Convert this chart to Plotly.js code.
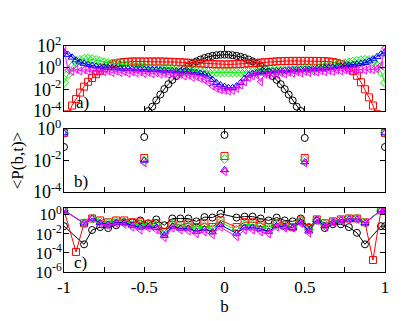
<!DOCTYPE html>
<html>
<head>
<meta charset="utf-8">
<script src="https://cdn.plot.ly/plotly-3.0.1.min.js"></script>
<style>
  body { margin: 0; background: #fff; }
  #chartDiv { width: 415px; height: 321px; }
</style>
</head>
<body>
<div id="chartDiv"></div>
<script>
// panel a) ---------------------------------------------------------
var aB = [-1,-0.975,-0.95,-0.925,-0.9,-0.875,-0.85,-0.825,-0.8,-0.775,-0.75,-0.725,-0.7,-0.675,-0.65,-0.625,-0.6,-0.575,-0.55,-0.525,
  -0.5,-0.475,-0.45,-0.425,-0.4,-0.375,-0.35,-0.325,-0.3,-0.275,-0.25,-0.225,-0.2,-0.175,-0.15,-0.125,-0.1,-0.075,-0.05,-0.025,
  0,0.025,0.05,0.075,0.1,0.125,0.15,0.175,0.2,0.225,0.25,0.275,0.3,0.325,0.35,0.375,0.4,0.425,0.45,0.475,
  0.5,0.525,0.55,0.575,0.6,0.625,0.65,0.675,0.7,0.725,0.75,0.775,0.8,0.825,0.85,0.875,0.9,0.925,0.95,0.975,1]

var aBlack = [1e-8,1e-8,1e-8,1e-8,1e-8,1e-8,1e-8,1e-8,1e-8,1e-8,1e-8,1e-8,1e-8,1e-8,1e-8,1e-8,1e-8,1e-8,
  3e-7,2.5e-6,1.6e-5,1e-4,2.5e-4,9.5e-4,3.3e-3,1.05e-2,0.03,0.074,0.17,0.38,0.74,1.35,2.3,3.8,5.6,7.8,10,12.3,14.1,15.5,15.8,
  15.5,14.1,12.3,10,7.8,5.6,3.8,2.3,1.35,0.74,0.38,0.17,0.074,0.03,1.05e-2,3.3e-3,9.5e-4,2.5e-4,1e-4,1.6e-5,2.5e-6,3e-7,
  1e-8,1e-8,1e-8,1e-8,1e-8,1e-8,1e-8,1e-8,1e-8,1e-8,1e-8,1e-8,1e-8,1e-8,1e-8,1e-8,1e-8,1e-8]
var aRed = [6e-6,5e-5,3.2e-4,1.26e-3,5e-3,0.0178,0.05,0.112,0.25,0.5,0.89,1.41,2.0,2.5,2.95,3.3,3.55,3.7,3.7,3.7,
  3.7,3.7,3.7,3.7,3.7,3.6,3.55,3.4,3.3,3.15,3.0,2.85,2.7,2.55,2.4,2.3,2.2,2.1,2.05,2.0,
  2.0,2.0,2.05,2.1,2.2,2.3,2.45,2.6,2.75,2.95,3.15,3.35,3.55,3.8,4.0,4.1,4.2,4.2,4.2,4.2,
  4.2,4.2,4.2,4.15,4.1,4.0,3.7,3.3,2.8,2.2,1.6,1.0,0.5,0.18,0.045,0.01,1.8e-3,3.2e-4,5e-5,6e-6,1e-6]
var aGreen = [0.04,0.25,1.26,3.16,5.0,6.3,6.6,6.0,5.0,4.0,3.16,2.7,2.4,2.14,1.9,1.74,1.58,1.45,1.32,1.23,
  1.15,1.07,1.0,0.93,0.87,0.81,0.76,0.71,0.66,0.62,0.575,0.54,0.5,0.47,0.45,0.42,0.4,0.38,0.37,0.36,
  0.355,0.355,0.36,0.37,0.38,0.39,0.41,0.42,0.44,0.45,0.47,0.48,0.5,0.52,0.55,0.575,0.6,0.63,0.68,0.71,
  0.76,0.81,0.89,1.0,1.12,1.26,1.41,1.62,1.86,2.14,2.5,2.95,3.55,4.17,4.8,5.25,5.0,3.55,1.58,0.4,0.04]
var aBlue = [28,16,9,5,3.2,2.4,1.9,1.58,1.35,1.2,1.1,1.02,0.95,0.91,0.87,0.83,0.79,0.76,0.74,0.72,
  0.69,0.67,0.65,0.62,0.6,0.58,0.55,0.525,0.5,0.47,0.45,0.41,0.38,0.34,0.3,0.24,0.16,0.08,0.04,0.025,
  0.018,0.014,0.014,0.02,0.04,0.1,0.2,0.28,0.35,0.39,0.42,0.45,0.47,0.5,0.52,0.55,0.58,0.6,0.63,0.66,
  0.69,0.72,0.76,0.8,0.85,0.92,1.0,1.1,1.2,1.35,1.5,1.7,1.9,2.1,2.4,2.8,4.0,6.3,10,17.8,28]
var aMag = [63,0.6,0.45,0.7,0.5,0.65,0.45,0.6,0.4,0.55,0.42,0.5,0.35,0.48,0.36,0.45,0.3,0.42,0.32,0.4,
  0.28,0.36,0.27,0.33,0.25,0.3,0.22,0.27,0.2,0.24,0.17,0.2,0.13,0.15,0.1,0.08,0.04,0.02,0.012,0.009,
  0.008,0.007,0.008,0.012,0.025,0.05,0.12,0.18,0.22,0.05,0.25,0.2,0.3,0.24,0.34,0.27,0.38,0.3,0.42,0.33,
  0.45,0.36,0.48,0.4,0.52,0.43,0.55,0.45,0.6,0.5,0.62,0.52,0.65,0.55,0.7,0.6,0.75,0.65,0.8,1.6,63]

// panel b) ---------------------------------------------------------
var bB = [-1,-0.5,0,0.5,1]
var bBlack = [0.072,0.31,0.42,0.27,0.072]
var bRed = [0.56,0.0145,0.0195,0.0145,0.56]
var bGreen = [0.56,0.01,0.0126,0.0107,0.56]
var bBlue = [0.56,0.01,0.0025,0.008,0.56]
var bMag = [0.56,0.007,0.002,0.007,0.56]

// panel c) ---------------------------------------------------------
var cB = [-1,-0.975,-0.925,-0.875,-0.825,-0.775,-0.725,-0.675,-0.625,-0.575,-0.525,-0.475,-0.425,-0.375,-0.325,-0.275,-0.225,-0.175,-0.125,-0.075,-0.025,
  0.025,0.075,0.125,0.175,0.225,0.275,0.325,0.375,0.425,0.475,0.525,0.575,0.625,0.675,0.725,0.775,0.825,0.875,0.925,0.975,1]
var cBlack = [0.063,null,null,7.9e-4,0.025,0.05,0.04,0.079,0.16,0.16,0.25,0.126,0.32,0.079,0.4,0.4,0.4,0.2,0.56,0.5,1.26,
  null,0.5,0.63,0.63,0.4,0.25,0.5,0.25,0.2,0.4,0.05,0.25,0.04,0.1,0.1,0.05,0.0126,7.9e-4,null,0.063,0.063]
var cRed = [2.9,null,1.26e-4,0.126,0.4,0.25,0.16,0.25,0.25,0.16,0.16,0.1,0.126,0.016,0.126,0.079,0.126,0.05,0.126,0.05,0.25,
  null,0.05,0.16,0.16,0.126,0.05,0.126,0.079,0.05,0.25,0.04,0.32,0.126,0.2,0.32,0.4,0.4,0.16,1.8e-5,2.9,2.9]
var cGreen = [2.9,null,null,0.126,0.4,0.19,0.13,0.2,0.19,0.11,0.091,0.076,0.078,0.0105,0.089,0.056,0.072,0.031,0.068,0.029,0.155,
  null,0.025,0.091,0.091,0.068,0.031,0.095,0.065,0.047,0.2,0.028,0.3,0.095,0.19,0.3,0.37,0.37,0.15,null,2.9,2.9]
var cBlue = [2.9,null,null,0.126,0.4,0.14,0.1,0.16,0.14,0.074,0.048,0.055,0.044,0.0065,0.059,0.037,0.038,0.017,0.032,0.015,0.087,
  null,0.011,0.048,0.048,0.032,0.017,0.069,0.05,0.043,0.16,0.019,0.27,0.069,0.17,0.27,0.34,0.34,0.135,null,2.9,2.9]
var cMag = [2.9,null,null,0.126,0.4,0.1,0.079,0.126,0.1,0.05,0.025,0.04,0.025,0.004,0.04,0.025,0.02,0.01,0.016,0.008,0.05,
  null,0.005,0.025,0.025,0.016,0.01,0.05,0.04,0.04,0.126,0.0126,0.25,0.05,0.16,0.25,0.32,0.32,0.126,null,2.9,2.9]

// tick labels
var xTickVals = [-1,-0.5,0,0.5,1]
var xTickText = ['-1','-0.5','0','0.5','1']
var yTickValsA = [1e-4,1e-2,1,100]
var yTickTextA = ['10<sup>-4</sup>','10<sup>-2</sup>','10<sup>0</sup>','10<sup>2</sup>']
var yTickValsB = [1e-4,1e-2,1]
var yTickTextB = ['10<sup>-4</sup>','10<sup>-2</sup>','10<sup>0</sup>']
var yTickValsC = [1e-6,1e-4,1e-2,1]
var yTickTextC = ['10<sup>-6</sup>','10<sup>-4</sup>','10<sup>-2</sup>','10<sup>0</sup>']

var styles = [
  {color:'#000000', symbol:'circle-open', size:7},
  {color:'#ff0000', symbol:'square-open', size:7},
  {color:'#00ee00', symbol:'diamond-open', size:7},
  {color:'#0000ff', symbol:'triangle-up-open', size:7},
  {color:'#ff00ff', symbol:'triangle-left-open', size:7}
]

var mkTrace = (x, y, st, n, mode) => ({
  type:'scatter', x:x, y:y, mode:mode, xaxis:'x'+n, yaxis:'y'+n,
  connectgaps:true, showlegend:false, hoverinfo:'skip',
  line:{color:st.color, width:1},
  marker:{color:st.color, symbol:st.symbol, size:st.size, line:{color:st.color, width:1}}
})

var data = []
;[aBlack,aRed,aGreen,aBlue,aMag].forEach((ys,i)=>{ data.push(mkTrace(aB, ys, styles[i], '', 'lines+markers')) })
;[bBlack,bRed,bGreen,bBlue,bMag].forEach((ys,i)=>{ data.push(mkTrace(bB, ys, styles[i], '2', 'markers')) })
;[cBlack,cRed,cGreen,cBlue,cMag].forEach((ys,i)=>{ data.push(mkTrace(cB, ys, styles[i], '3', 'lines+markers')) })

var serif = '"Liberation Serif", "DejaVu Serif", serif'
var font = {family:serif, size:17, color:'#000'}
var yFont = {family:serif, size:18, color:'#000'}
var yFontC = {family:serif, size:16.5, color:'#000'}
var xDom = [64/415, 385/415]

var xAx = (anchor, labels) => ({
  domain:xDom, range:[-1,1], anchor:anchor, showgrid:false, zeroline:false,
  showline:true, linecolor:'#000', linewidth:1, mirror:'ticks',
  ticks:'inside', ticklen:5, tickcolor:'#000',
  tickvals:xTickVals, ticktext:xTickText, showticklabels:labels,
  minor:{tickvals:[-0.75,-0.25,0.25,0.75], ticks:'inside', ticklen:5, tickcolor:'#000'},
  tickfont:font
})
var yAx = (anchor, dom, rng, vals, text, f) => ({
  domain:dom, type:'log', range:rng, anchor:anchor, showgrid:false, zeroline:false,
  showline:true, linecolor:'#000', linewidth:1, mirror:'ticks',
  ticks:'inside', ticklen:5, tickcolor:'#000', ticklabelstandoff:-2,
  tickvals:vals, ticktext:text, tickfont:f
})

var layout = {
  width:415, height:321,
  margin:{l:0, r:0, t:0, b:0},
  paper_bgcolor:'#fff', plot_bgcolor:'#fff',
  font:font,
  xaxis:xAx('y', false),
  xaxis2:xAx('y2', false),
  xaxis3:Object.assign(xAx('y3', true), {title:{text:'b', font:font, standoff:2}}),
  yaxis:yAx('x', [1-111/321, 1-46/321], [-4,2], yTickValsA, yTickTextA, yFont),
  yaxis2:Object.assign(yAx('x2', [1-192/321, 1-129/321], [-4,0], yTickValsB, yTickTextB, yFont),
    {title:{text:'&lt;P(b,t)&gt;', font:font, standoff:4}}),
  yaxis3:yAx('x3', [1-272/321, 1-208/321], [-6,0.7], yTickValsC, yTickTextC, yFontC),
  annotations:[
    {text:'a)', xref:'paper', yref:'paper', x:74/415, y:1-103/321, xanchor:'left', yanchor:'middle', showarrow:false, font:font},
    {text:'b)', xref:'paper', yref:'paper', x:72/415, y:1-182/321, xanchor:'left', yanchor:'middle', showarrow:false, font:font},
    {text:'c)', xref:'paper', yref:'paper', x:72/415, y:1-262/321, xanchor:'left', yanchor:'middle', showarrow:false, font:font}
  ]
}

Plotly.newPlot('chartDiv', data, layout, {staticPlot:true})
</script>
</body>
</html>
